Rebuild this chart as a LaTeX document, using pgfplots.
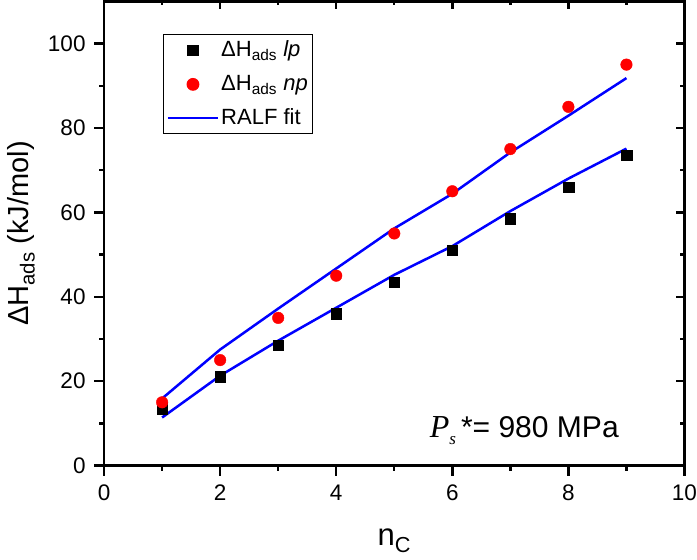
\documentclass[border=0pt]{standalone}
\usepackage{fontspec}
\setmainfont{Liberation Sans}
\newfontfamily\timesf{Liberation Serif}
\usepackage{pgfplots}
\pgfplotsset{compat=1.18}
\definecolor{fitblue}{RGB}{0,0,255}
\definecolor{ptred}{RGB}{255,0,0}
\pgfplotsset{
  base/.style={
    scale only axis, width=580pt, height=464pt,
    xmin=0, xmax=10, ymin=0, ymax=110,
    xtick={0,2,...,10}, ytick={0,20,...,100},
    minor x tick num=1, minor y tick num=1,
    axis line style={line width=2.6pt},
    every tick/.style={black, line width=2.4pt},
  }
}
\begin{document}
\fontsize{22}{26}\selectfont
\begin{tikzpicture}
\begin{axis}[base,
  tick align=outside, xtick pos=bottom, ytick pos=left,
  major tick length=10pt, minor tick length=5pt,
  /pgf/number format/assume math mode=true,
  ticklabel style={font=\fontsize{22.5}{26}\selectfont},
  xticklabel style={yshift=-2pt, inner xsep=0pt},
  yticklabel style={xshift=-1pt},
  xlabel={n\textsubscript{C}},
  ylabel={ΔH\textsubscript{ads} (kJ/mol)},
  every axis x label/.style={at={(rel axis cs:0.5,0)}, anchor=base, yshift=-80pt, font=\fontsize{31}{36}\selectfont},
  every axis y label/.style={at={(rel axis cs:0,0.5)}, xshift=-83pt, anchor=center, rotate=90, font=\fontsize{29}{34}\selectfont},
  legend style={at={(rel axis cs:0.1017,0.929)}, anchor=north west, draw=black, line width=1.2pt,
    font=\fontsize{22}{26}\selectfont, row sep=11pt, inner xsep=3pt, inner ysep=4pt},
  legend cell align=left,
  legend image code/.code={\draw[mark repeat=2,mark phase=2,#1] plot coordinates {(0pt,0pt)(25pt,0pt)(50pt,0pt)};},
]
\addplot[only marks, mark=square*, mark size=5.3pt, black, draw=none, fill=black] coordinates {
(1,13.5)(2,21)(3,28.5)(4,36)(5,43.5)(6,51)(7,58.5)(8,66)(9,73.5)};
\addlegendentry{ΔH\textsubscript{ads} \textit{lp}}
\addplot[only marks, mark=*, mark size=5.8pt, draw=none, fill=ptred, mark options={draw=ptred, fill=ptred}] coordinates {
(1,15)(2,25)(3,35)(4,45)(5,55)(6,65)(7,75)(8,85)(9,95)};
\addlegendentry{ΔH\textsubscript{ads} \textit{np}}
\addplot[fitblue, line width=2.5pt, no marks] coordinates {
(1,11.4)(2,21.3)(3,29.6)(4,37.4)(5,45.2)(6,52)(7,60.3)(8,68)(9,75.1)};
\addlegendentry{RALF fit}
\addplot[fitblue, line width=2.5pt, no marks, forget plot] coordinates {
(1,15.9)(2,27.5)(3,37.2)(4,46.7)(5,56.2)(6,64.4)(7,74.2)(8,82.9)(9,91.8)};
\node[anchor=base, font=\fontsize{30}{34}\selectfont, inner sep=0pt] at (axis cs:7.24,6.6) {{\fontsize{32}{34}\timesf\itshape P}\raisebox{-7pt}{\fontsize{17}{18}\timesf\itshape s}\,\raisebox{0pt}{*}= 980 MPa};
\end{axis}
\begin{axis}[base,
  tick align=inside, xtick pos=top, ytick pos=right,
  major tick length=8pt, minor tick length=4pt,
  xticklabels={}, yticklabels={},
  xticklabel style={overlay}, yticklabel style={overlay},
]
\end{axis}
\end{tikzpicture}
\end{document}
